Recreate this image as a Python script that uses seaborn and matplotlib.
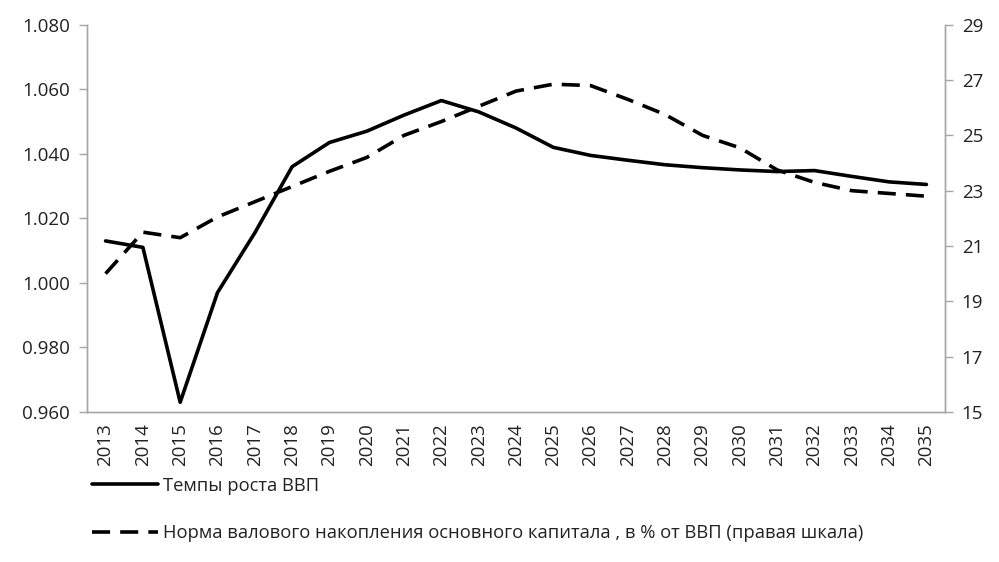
import numpy as np
import pandas as pd
import matplotlib
matplotlib.use("Agg")
import matplotlib.pyplot as plt
from matplotlib.ticker import FixedLocator, FuncFormatter
import seaborn as sns

# Data
years = list(range(2013, 2036))
gdp_growth = [1.013, 1.011, 0.963, 0.997, 1.0155, 1.036, 1.0435, 1.047, 1.052, 1.0565,
              1.053, 1.048, 1.042, 1.0395, 1.038, 1.0366, 1.0357, 1.035, 1.0345, 1.0348,
              1.033, 1.0313, 1.0305]
invest_share = [20.0, 21.5, 21.3, 22.05, 22.6, 23.15, 23.7, 24.2, 25.0, 25.5,
                26.05, 26.6, 26.85, 26.8, 26.3, 25.75, 25.0, 24.55, 23.75, 23.3,
                23.0, 22.9, 22.8]
label_gdp = "Темпы роста ВВП"
label_inv = "Норма валового накопления основного капитала , в % от ВВП (правая шкала)"

df = pd.DataFrame({"pos": np.arange(len(years)), "year": years,
                   "gdp": gdp_growth, "inv": invest_share})

sns.set_style("white")
plt.rcParams["font.family"] = ["Open Sans", "DejaVu Sans"]

fig = plt.figure(figsize=(9.99, 5.62), dpi=100)
ax = fig.add_axes([0.087, 0.267, 0.859, 0.689])
ax2 = ax.twinx()

sns.lineplot(data=df, x="pos", y="gdp", ax=ax, color="black", linewidth=2.6,
             label=label_gdp, legend=False)
sns.lineplot(data=df, x="pos", y="inv", ax=ax2, color="black", linewidth=2.6,
             linestyle=(0, (5, 2.8)), label=label_inv, legend=False)

grey = "#a6a6a6"
txt = "#222222"
ax.set_xlim(-0.5, len(years) - 0.5)
ax.set_ylim(0.96, 1.08)
ax.set_yticks(np.arange(0.96, 1.0801, 0.02))
ax.yaxis.set_major_formatter(FuncFormatter(lambda v, p: f"{v:.3f}"))
ax2.set_ylim(15, 29)
ax2.set_yticks(np.arange(15, 30, 2))

ax.set_xticks(df["pos"])
ax.set_xticklabels([str(y) for y in years], rotation=90)
ax.xaxis.set_minor_locator(FixedLocator(np.arange(-0.5, len(years), 1)))
ax.tick_params(axis="x", which="major", length=0, pad=8, labelsize=13.5, colors=txt)
ax.tick_params(axis="x", which="minor", length=6, width=1, color=grey, direction="out")
ax.tick_params(axis="y", length=6, width=1, color=grey, direction="out", labelsize=13.5,
               labelcolor=txt, pad=6)
ax2.tick_params(axis="y", length=6, width=1, color=grey, direction="out", labelsize=13.5,
                labelcolor=txt, pad=6)
ax.set_xlabel("")
ax.set_ylabel("")
ax2.set_ylabel("")

for a in (ax, ax2):
    a.spines["top"].set_visible(False)
    for s in ("left", "right", "bottom"):
        a.spines[s].set_color(grey)
        a.spines[s].set_linewidth(1)

h1, l1 = ax.get_legend_handles_labels()
h2, l2 = ax2.get_legend_handles_labels()
leg = fig.legend(h1 + h2, l1 + l2, loc="upper left", bbox_to_anchor=(0.076, 0.181),
                 frameon=False, handlelength=3.6, handletextpad=0.25, labelspacing=1.6,
                 prop={"family": ["Open Sans", "DejaVu Sans"], "size": 13.2})
for t in leg.get_texts():
    t.set_color(txt)

fig.savefig("out.png", dpi=100)
